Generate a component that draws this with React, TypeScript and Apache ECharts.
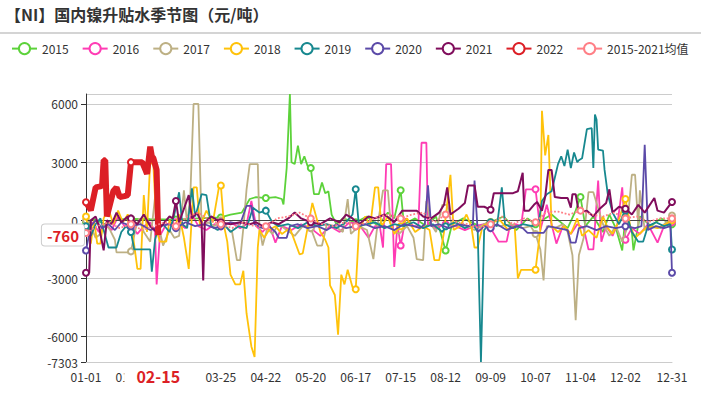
import React, { useEffect, useRef } from "react";
import * as echarts from "echarts";

const FONT = "'Microsoft YaHei','Noto Sans CJK SC','Noto Sans',sans-serif";

// Leap-year day categories MM-DD
const categories: string[] = (() => {
  const out: string[] = [];
  for (let i = 0; i < 366; i++) {
    const d = new Date(2020, 0, 1 + i);
    out.push(String(d.getMonth() + 1).padStart(2, "0") + "-" + String(d.getDate()).padStart(2, "0"));
  }
  return out;
})();

const labelDays = [0, 28, 56, 84, 112, 140, 168, 196, 224, 252, 280, 308, 336, 365];
const pointerDay = 45;
const pointerValue = -760;

const s2015: [number, number][] = [[0,-100],[5,50],[12,-200],[20,50],[28,80],[40,60],[56,40],[70,100],[84,150],[90,300],[97,400],[102,1100],[106,1200],[112,1150],[118,1200],[122,1100],[123,820],[125,2700],[127,6514],[128,3000],[130,2900],[132,3850],[134,2900],[136,3300],[138,2800],[140,2700],[142,1350],[145,1350],[147,1950],[149,1400],[151,1500],[153,300],[156,-200],[160,100],[168,-100],[175,200],[182,-300],[188,400],[192,100],[196,1550],[198,-200],[205,100],[212,-300],[218,200],[224,-1550],[228,-200],[235,100],[245,-300],[252,-100],[260,200],[268,-500],[275,100],[280,-200],[290,300],[300,-400],[305,500],[308,1200],[311,-300],[316,200],[322,-600],[326,300],[330,-400],[334,-1550],[336,200],[340,-600],[341,-1550],[345,200],[352,-300],[358,100],[365,-200]];

const s2016: [number, number][] = [[0,-400],[4,-100],[8,-600],[12,-200],[16,-500],[20,200],[24,-300],[28,-200],[32,-700],[36,-300],[40,-100],[43,-600],[44,-3300],[46,-800],[50,-200],[56,-100],[62,-400],[66,300],[70,-300],[75,-500],[80,-200],[84,-300],[90,-100],[96,-400],[100,-200],[103,1000],[106,-300],[110,-600],[114,-200],[118,-1150],[122,-300],[128,-500],[134,-200],[140,-400],[146,-800],[152,-300],[158,-600],[164,-100],[170,-200],[176,-900],[180,-300],[183,-300],[185,-1400],[187,2900],[190,2900],[192,-2400],[194,-200],[196,-1300],[199,100],[204,-300],[207,-300],[209,4000],[212,4000],[213,-200],[218,-400],[224,-200],[230,-300],[236,-500],[242,-300],[248,-200],[252,-400],[257,-1100],[262,-1100],[264,-300],[268,-200],[271,-300],[274,1600],[280,1600],[283,-500],[287,800],[290,-200],[293,-1200],[297,-300],[302,-700],[306,-200],[310,-400],[313,-1500],[316,-1500],[319,2050],[321,-1100],[324,-300],[328,-800],[331,-200],[334,1700],[336,-1000],[340,-400],[345,-700],[350,-200],[356,-1150],[360,-300],[365,-100]];

const s2017: [number, number][] = [[0,0],[3,-300],[6,-900],[9,-700],[12,-200],[15,-500],[18,-1000],[19,-1650],[27,-1650],[28,-1600],[31,-400],[33,100],[36,-600],[40,-1100],[43,1200],[45,-200],[48,-1300],[52,-500],[55,-900],[58,-800],[61,1550],[63,-200],[65,1300],[67,6000],[70,6000],[72,-300],[76,-100],[80,-300],[84,0],[88,-400],[91,-600],[94,-2050],[96,-2050],[98,-400],[100,1600],[102,2900],[107,2900],[108,-300],[110,-1300],[113,-400],[116,-700],[120,-200],[125,-500],[130,-800],[135,-300],[140,-400],[144,-1300],[147,-1300],[150,-200],[155,-300],[160,-600],[163,1100],[165,-700],[170,-300],[175,-500],[179,-2000],[181,-600],[185,1550],[188,1550],[190,-400],[195,-700],[200,-300],[204,-900],[206,-2000],[210,-2050],[212,1000],[215,-200],[218,-600],[222,800],[225,800],[228,-300],[235,-200],[242,-500],[250,-100],[258,-300],[265,-200],[272,-400],[277,-300],[280,-700],[283,-1500],[285,-3100],[287,-300],[292,-400],[297,-200],[300,-600],[303,-1800],[305,-5150],[307,-1800],[310,-900],[313,1450],[316,1450],[318,900],[322,-200],[326,-800],[330,-300],[334,-1100],[337,-400],[340,2350],[342,2350],[344,-300],[345,1550],[348,-500],[352,-300],[358,-400],[365,250]];

const s2018: [number, number][] = [[0,200],[3,-1200],[5,0],[7,-1200],[9,-1200],[11,100],[14,600],[17,-200],[20,500],[23,-100],[26,300],[28,0],[32,-2500],[34,-2500],[36,1300],[38,-600],[40,3100],[42,2800],[44,-500],[46,-1100],[50,-1100],[52,0],[55,-400],[58,300],[61,-900],[64,-2500],[67,1700],[69,1700],[71,-300],[75,500],[79,-100],[83,1800],[84,1800],[86,-300],[88,-1100],[90,-2800],[93,-3300],[96,-3300],[98,-2600],[100,-4800],[103,-6500],[105,-7050],[107,-1400],[108,-500],[111,-900],[114,-500],[118,-300],[122,-700],[127,-400],[133,-1750],[135,-1700],[138,-400],[141,900],[143,300],[146,-600],[149,-1000],[151,-1400],[152,-3350],[155,-3850],[157,-5900],[159,-2800],[161,-3300],[163,-2550],[166,-3450],[168,-3550],[170,-500],[174,200],[177,-300],[180,1700],[182,1700],[184,-300],[188,200],[192,-700],[196,-300],[200,100],[205,-600],[210,-300],[214,-500],[217,-2050],[220,-2050],[223,-600],[227,2350],[229,-500],[233,-300],[237,300],[240,-300],[242,-1400],[244,-1400],[247,-300],[252,-100],[258,0],[263,-500],[267,-300],[269,-3000],[271,-2550],[280,-2550],[283,-500],[284,5650],[286,3350],[288,4400],[290,-300],[294,-600],[298,-300],[302,-700],[306,100],[309,-800],[313,-500],[318,-900],[322,200],[325,-400],[328,-700],[331,-200],[336,1100],[339,-300],[342,-900],[346,-600],[350,-300],[356,-400],[361,-200],[365,0]];

const s2019: [number, number][] = [[0,-300],[3,-800],[6,-200],[9,100],[12,-800],[14,-1400],[19,-1400],[22,-600],[25,-300],[28,-600],[30,-1500],[40,-1500],[41,-2650],[43,-1000],[45,-400],[48,-200],[52,-600],[55,300],[58,1450],[60,-200],[63,-400],[66,1650],[68,200],[72,1350],[75,1300],[78,-300],[82,-500],[86,-200],[90,-600],[95,-300],[100,-400],[104,650],[108,400],[112,500],[116,-100],[120,-300],[126,-200],[132,-400],[138,-100],[144,-300],[150,-200],[156,-400],[162,-100],[166,300],[168,1600],[170,-300],[175,-200],[180,-100],[186,-400],[192,-200],[198,-300],[204,-100],[210,-400],[216,-200],[222,-600],[224,-300],[230,-100],[236,-400],[241,-200],[244,-600],[246,-7303],[248,-500],[252,-100],[256,-300],[259,1700],[261,-200],[266,-400],[272,-200],[278,-300],[282,-100],[284,1000],[287,1350],[290,1500],[292,2200],[294,2900],[296,3300],[298,2800],[300,3650],[302,2700],[304,3500],[306,3000],[307,3100],[309,3200],[312,4700],[315,4750],[316,2700],[317,5450],[318,5200],[319,3650],[322,3600],[323,2600],[325,1350],[328,400],[332,-200],[336,500],[340,-600],[344,-1100],[347,-1100],[350,-300],[355,-100],[360,-300],[364,-200],[365,-1500]];

const s2020: [number, number][] = [[0,-1550],[3,-300],[6,0],[10,-400],[14,-200],[18,-500],[22,-100],[28,-300],[34,-200],[40,-500],[46,-300],[52,-200],[56,-400],[62,-100],[68,-300],[74,-200],[80,-400],[84,-300],[90,-100],[96,-200],[100,750],[103,750],[105,-200],[110,-400],[114,-300],[118,-600],[120,-900],[125,-900],[127,-300],[132,-200],[138,-400],[144,-300],[150,-500],[156,-200],[162,-400],[168,-300],[174,-200],[180,-400],[186,-300],[192,-500],[198,-200],[204,-300],[208,-400],[211,-200],[213,1800],[215,-300],[220,-200],[226,-400],[232,-200],[238,-300],[241,-200],[242,2050],[244,-600],[248,-300],[252,-400],[256,-200],[262,-500],[268,-300],[272,-400],[275,-650],[285,-650],[288,-300],[294,-400],[300,-500],[302,-1150],[305,-1150],[307,-400],[312,-300],[318,-500],[324,-300],[330,-400],[336,-300],[342,-400],[346,-300],[348,3900],[350,-500],[355,-300],[360,-400],[364,-300],[365,-2700]];

const s2021: [number, number][] = [[0,-2700],[2,-2700],[3,0],[6,200],[8,-300],[11,-1550],[13,0],[16,-200],[19,400],[22,-100],[26,200],[28,100],[32,-200],[36,300],[40,-300],[44,-600],[48,-200],[52,200],[54,100],[56,1000],[58,-100],[61,600],[64,1300],[66,100],[69,400],[72,-100],[73,-3100],[74,-100],[78,200],[84,-100],[90,-200],[96,-100],[102,-200],[106,-100],[110,-300],[116,-100],[120,-200],[126,100],[130,400],[134,100],[140,-100],[146,-200],[152,100],[158,-100],[162,300],[166,100],[170,-200],[176,200],[180,100],[186,300],[192,-100],[197,500],[206,500],[210,200],[215,100],[220,400],[223,800],[225,1700],[227,300],[232,600],[236,900],[238,1800],[242,1800],[244,700],[248,700],[252,550],[254,1400],[258,1400],[262,1400],[266,1400],[269,1500],[272,2450],[273,500],[276,500],[279,800],[281,950],[284,500],[286,1200],[288,2600],[290,2600],[292,1200],[296,1150],[300,1150],[302,650],[303,1350],[305,1350],[307,400],[312,500],[316,200],[320,600],[324,900],[326,1600],[328,400],[332,700],[336,600],[340,300],[344,800],[348,400],[354,1150],[356,500],[360,400],[365,950]];

const s2022: [number, number][] = [[0,930],[3,520],[6,1700],[9,1750],[10,1800],[11,3100],[12,3100],[13,200],[15,840],[17,1500],[19,1700],[21,1200],[24,1250],[26,1300],[28,3000],[35,3000],[37,2600],[38,2400],[40,3800],[41,3300],[42,3200],[43,2900],[44,2600],[45,-760]];

const sMean: [number, number][] = [[0,-650],[7,-300],[14,-100],[21,-400],[28,-200],[35,-500],[42,-300],[49,-100],[56,-300],[63,200],[70,400],[77,0],[84,-200],[91,-400],[98,-100],[105,-300],[112,-300],[119,100],[126,200],[133,400],[140,100],[147,-200],[154,-300],[161,-100],[168,-300],[175,-100],[182,200],[189,300],[196,100],[203,300],[210,400],[217,-100],[224,300],[231,-100],[238,-200],[245,-400],[252,-200],[259,200],[266,-200],[273,100],[280,-100],[287,450],[294,450],[301,300],[308,500],[315,300],[322,200],[329,400],[336,100],[343,200],[350,-100],[357,100],[365,100]];

const seriesDefs: { name: string; color: string; pts: [number, number][]; width: number; dash?: string }[] = [
  { name: "2015", color: "#5cd23a", pts: s2015, width: 1.8 },
  { name: "2016", color: "#ff3cb4", pts: s2016, width: 1.8 },
  { name: "2017", color: "#bdb084", pts: s2017, width: 1.8 },
  { name: "2018", color: "#ffc20a", pts: s2018, width: 1.8 },
  { name: "2019", color: "#17888f", pts: s2019, width: 1.8 },
  { name: "2020", color: "#5b4aa8", pts: s2020, width: 1.8 },
  { name: "2021", color: "#800d5c", pts: s2021, width: 2 },
  { name: "2022", color: "#dc1f26", pts: s2022, width: 6 },
  { name: "2015-2021均值", color: "#ff7f86", pts: sMean, width: 1.8, dash: "dotted" },
];

export default function App() {
  const ref = useRef<HTMLDivElement>(null);
  useEffect(() => {
    if (!ref.current) return;
    const chart = echarts.init(ref.current, null, { renderer: "svg" });
    const series: any[] = seriesDefs.map((s, i) => ({
      name: s.name,
      type: "line",
      data: s.pts.map(([d, v]) => [categories[d], v]),
      symbol: "emptyCircle",
      symbolSize: 6,
      showSymbol: true,
      showAllSymbol: "auto",
      lineStyle: { width: s.width, color: s.color, type: s.dash || "solid" },
      itemStyle: { color: s.color, borderWidth: 1.5 },
      emphasis: { disabled: true },
      z: 2 + i,
      markLine:
        i === 0
          ? {
              silent: true,
              symbol: "none",
              label: { show: false },
              lineStyle: { color: "#444", width: 1, type: "solid" },
              data: [{ yAxis: 0 }],
            }
          : undefined,
    }));
    chart.setOption({
      animation: false,
      backgroundColor: "#fff",
      textStyle: { fontFamily: FONT },
      title: {
        text: "【NI】国内镍升贴水季节图（元/吨）",
        left: 0,
        top: 1,
        textStyle: { fontSize: 16, fontWeight: "bold", color: "#333", fontFamily: FONT },
      },
      graphic: [
        { type: "line", shape: { x1: 0, y1: 33, x2: 701, y2: 33 }, style: { stroke: "#aaa", lineWidth: 1.2 } },
      ],
      legend: {
        top: 37,
        left: 6,
        itemGap: 13,
        itemWidth: 25,
        itemHeight: 14,
        lineStyle: { type: "solid" },
        textStyle: { fontSize: 12, color: "#333", fontFamily: FONT },
        data: seriesDefs.map((s) => s.name),
      },
      grid: { left: 86, right: 29, top: 94, bottom: 33, outerBoundsMode: "none" } as any,
      xAxis: {
        type: "category",
        data: categories,
        boundaryGap: false,
        axisLine: { show: true, onZero: false, lineStyle: { color: "#ccc" } },
        axisTick: { show: false },
        splitLine: { show: false },
        axisLabel: {
          interval: (idx: number) => labelDays.includes(idx),
          color: "#333",
          fontSize: 12,
          margin: 8,
          fontFamily: FONT,
        },
        axisPointer: {
          show: true,
          status: "show",
          value: pointerDay,
          type: "line",
          triggerTooltip: false,
          lineStyle: { opacity: 0 },
          label: {
            show: true,
            backgroundColor: "#fff",
            color: "#dc1f26",
            fontWeight: "bold",
            fontSize: 16,
            padding: [2, 12],
            margin: 4,
            fontFamily: FONT,
            formatter: (p: any) => (typeof p.value === "number" ? categories[p.value] : p.value),
          },
        },
      },
      yAxis: {
        type: "value",
        min: -7303,
        max: 6514,
        splitNumber: 5,
        axisLine: { show: true, lineStyle: { color: "#333" } },
        axisTick: { show: true, length: 5, lineStyle: { color: "#333" } },
        axisLabel: {
          color: "#333",
          fontSize: 12,
          margin: 8,
          showMaxLabel: false,
          fontFamily: FONT,
          formatter: (v: number) => String(Math.round(v)),
        },
        splitLine: { show: true, lineStyle: { color: "#ccc", width: 1 } },
        axisPointer: {
          show: true,
          status: "show",
          value: pointerValue,
          type: "line",
          triggerTooltip: false,
          lineStyle: { opacity: 0 },
          label: {
            show: true,
            backgroundColor: "#fff",
            borderColor: "#ccc",
            borderWidth: 1,
            color: "#dc1f26",
            fontWeight: "bold",
            fontSize: 15,
            padding: [3, 5],
            margin: 2,
            fontFamily: FONT,
            formatter: (p: any) => String(Math.round(Number(p.value))),
          },
        },
      },
      series,
    });
    return () => chart.dispose();
  }, []);
  return (
    <div
      ref={ref}
      style={{ position: "absolute", left: 0, top: 0, width: 701, height: 395, background: "#fff" }}
    />
  );
}
